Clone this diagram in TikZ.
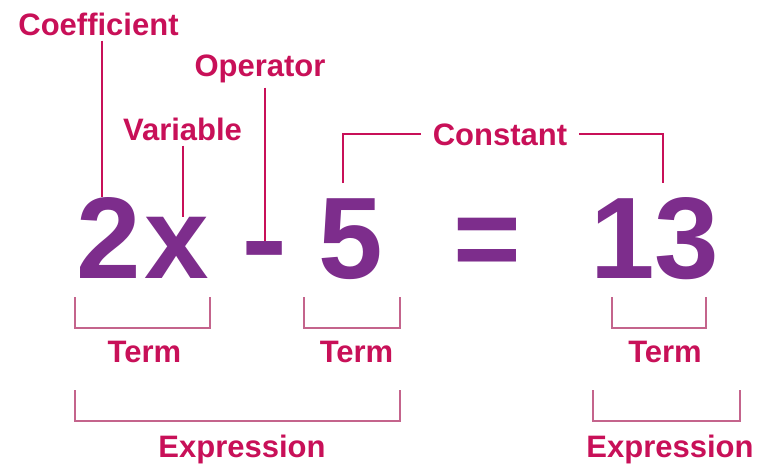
\documentclass[tikz,border=0pt]{standalone}
\usepackage{fontspec}
\setmainfont{Liberation Sans}
\usepackage{xcolor}
\usepackage{tikz}
\definecolor{labpink}{RGB}{200,16,88}
\definecolor{brkpink}{RGB}{196,100,140}
\definecolor{eqpurple}{RGB}{125,45,140}

\begin{document}
\begin{tikzpicture}[x=1pt,y=-1pt,
lab/.style={text=labpink,font=\fontsize{31}{36}\selectfont\bfseries,inner sep=5pt,anchor=base},
big/.style={text=eqpurple,font=\fontsize{116}{130}\selectfont\bfseries,inner sep=0pt,anchor=base},
lead/.style={labpink,line width=2pt},
brk/.style={brkpink,line width=2pt}]
\useasboundingbox (0,0) rectangle (761,466);
% the equation
\node[big](two) at (109,278){2};
\node[big](xv) at (177,278){x};
\node[big](minus) at (265,278){\scalebox{1.2}[1]{-}};
\node[big](five) at (351,278){5};
\node[big](eq) at (487,278){=};
\node[big](thirteen) at (655,278){13};
% labels above
\node[lab](coef) at (98.5,35){Coefficient};
\node[lab](op) at (260,76){Operator};
\node[lab](var) at (182.5,140){Variable};
\node[lab,inner xsep=12pt](const) at (500,145){Constant};
\draw[lead]([xshift=3pt]coef.south)--([xshift=3pt]coef.south |- two.north);
\draw[lead](var.south)--(var.south |- xv.north);
\draw[lead](minus.north |- op.south)--(minus.north);
\coordinate(cfive) at (343,183);
\coordinate(cthirteen) at (663,183);
\draw[lead](cfive)|-(const.west);
\draw[lead](const.east)-|(cthirteen);
% brackets below
\foreach \l/\r/\t in {75/210/297,304/400/297,612/706/297,75/400/390,593/740/390}
\draw[brk](\l,\t)|-(\r,\t+31)--(\r,\t);
\node[lab](termA) at (144.5,362){Term};
\node[lab](termB) at (356.5,362){Term};
\node[lab](termC) at (665,362){Term};
\node[lab](exprA) at (242,457){Expression};
\node[lab](exprB) at (670,457){Expression};
\end{tikzpicture}
\end{document}
